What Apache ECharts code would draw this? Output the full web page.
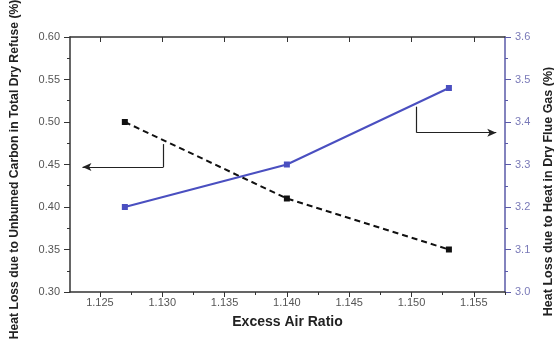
<!DOCTYPE html>
<html>
<head>
<meta charset="utf-8">
<script src="https://cdn.jsdelivr.net/npm/echarts@6/dist/echarts.min.js"></script>
<style>
  html, body { margin: 0; padding: 0; background: #fff; }
  #chart { width: 554px; height: 341px; }
</style>
</head>
<body>
<div id="chart"></div>
<script>
// values
const airRatio = [1.127, 1.140, 1.153]
const carbonLoss = [0.50, 0.41, 0.35]
const flueGasLoss = [3.20, 3.30, 3.48]

const xMajor = [1.125, 1.130, 1.135, 1.140, 1.145, 1.150, 1.155]
const xMinor = [1.1275, 1.1325, 1.1375, 1.1425, 1.1475, 1.1525, 1.1575]

// arrow annotations (data coords)
const leftArrow = [[1.1301, 0.474], [1.1301, 0.447], [1.1236, 0.447]]
const rightArrow = [[1.1504, 3.436], [1.1504, 3.375], [1.1568, 3.375]]

const black = '#111'
const blue = '#4a4fc0'
const axisBlue = '#5a5aa8'
const font = 'Liberation Sans, Arial, sans-serif'

const chart = echarts.init(document.getElementById('chart'))

function arrowLines(pts) {
  return [
    [{ coord: pts[0], symbol: 'none' }, { coord: pts[1], symbol: 'none' }],
    [{ coord: pts[1], symbol: 'none' }, { coord: pts[2], symbol: 'arrow', symbolSize: [6, 9] }]
  ]
}

const xCommon = {
  type: 'value',
  min: 1.1226,
  max: 1.1575,
  splitLine: { show: false },
  axisLine: { lineStyle: { color: '#333', width: 1.5 } }
}

chart.setOption({
  animation: false,
  grid: { left: 70, right: 49, top: 37, bottom: 49, containLabel: false, outerBoundsMode: 'none' },
  xAxis: [
    Object.assign({}, xCommon, {
      position: 'bottom',
      name: 'Excess Air Ratio',
      nameLocation: 'middle',
      nameGap: 23,
      nameTextStyle: { fontFamily: font, fontSize: 14, fontWeight: 'bold', color: '#222' },
      axisTick: { customValues: xMajor, length: 5, lineStyle: { color: '#333' } },
      axisLabel: {
        customValues: xMajor,
        fontFamily: font, fontSize: 11, color: '#555', margin: 5,
        formatter: v => v.toFixed(3)
      }
    }),
    Object.assign({}, xCommon, {
      position: 'top',
      axisTick: { customValues: xMajor, inside: true, length: 5, lineStyle: { color: '#333' } },
      axisLabel: { show: false }
    }),
    Object.assign({}, xCommon, {
      position: 'bottom',
      axisLine: { show: false },
      axisTick: { customValues: xMinor, length: 3, lineStyle: { color: '#333' } },
      axisLabel: { show: false }
    })
  ],
  yAxis: [
    {
      type: 'value',
      position: 'left',
      min: 0.30, max: 0.60, interval: 0.05,
      name: 'Heat Loss due to Unbumed Carbon in Total Dry Refuse (%)',
      nameLocation: 'middle',
      nameGap: 49,
      nameTextStyle: { fontFamily: font, fontSize: 12.2, fontWeight: 'bold', color: '#222', padding: [0, 10, 0, 0] },
      axisLine: { show: true, lineStyle: { color: '#333', width: 1.5 } },
      axisTick: { length: 6 },
      minorTick: { show: true, splitNumber: 2, length: 3, lineStyle: { color: '#333' } },
      axisLabel: { fontFamily: font, fontSize: 11, color: '#555', margin: 10, formatter: v => v.toFixed(2) },
      splitLine: { show: false }
    },
    {
      type: 'value',
      position: 'right',
      min: 3.0, max: 3.6, interval: 0.1,
      name: 'Heat Loss due to Heat in Dry Flue Gas (%)',
      nameLocation: 'middle',
      nameGap: 37,
      nameRotate: 90,
      nameTextStyle: { fontFamily: font, fontSize: 12.5, fontWeight: 'bold', color: '#222', padding: [0, 54, 0, 0] },
      axisLine: { show: true, lineStyle: { color: axisBlue, width: 1.5 } },
      axisTick: { length: 6, lineStyle: { color: axisBlue } },
      minorTick: { show: true, splitNumber: 2, length: 3, lineStyle: { color: axisBlue } },
      axisLabel: { fontFamily: font, fontSize: 11, color: '#7a7ab8', margin: 10, formatter: v => v.toFixed(1) },
      splitLine: { show: false }
    }
  ],
  series: [
    {
      name: 'carbon',
      type: 'line',
      xAxisIndex: 0,
      yAxisIndex: 0,
      data: airRatio.map((x, i) => [x, carbonLoss[i]]),
      symbol: 'rect',
      symbolSize: 6,
      itemStyle: { color: black },
      lineStyle: { color: black, width: 2, type: [6, 4] }
    },
    {
      name: 'flue',
      type: 'line',
      xAxisIndex: 0,
      yAxisIndex: 1,
      data: airRatio.map((x, i) => [x, flueGasLoss[i]]),
      symbol: 'rect',
      symbolSize: 6,
      itemStyle: { color: blue },
      lineStyle: { color: blue, width: 2 }
    },
    {
      name: 'leftArrow',
      type: 'line',
      xAxisIndex: 0,
      yAxisIndex: 0,
      data: [],
      markLine: {
        silent: true,
        label: { show: false },
        lineStyle: { color: '#222', width: 1.2, type: 'solid' },
        data: arrowLines(leftArrow)
      }
    },
    {
      name: 'rightArrow',
      type: 'line',
      xAxisIndex: 0,
      yAxisIndex: 1,
      data: [],
      markLine: {
        silent: true,
        label: { show: false },
        lineStyle: { color: '#222', width: 1.2, type: 'solid' },
        data: arrowLines(rightArrow)
      }
    }
  ]
})
</script>
</body>
</html>
